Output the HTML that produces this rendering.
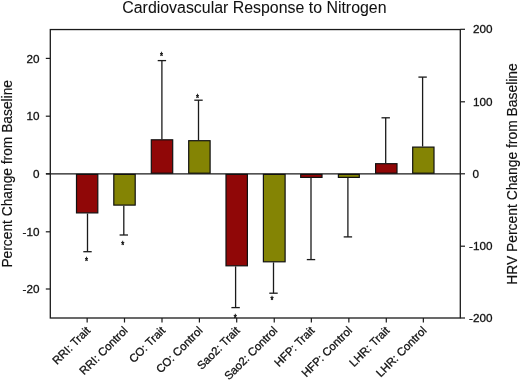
<!DOCTYPE html><html><head><meta charset="utf-8"><style>html,body{margin:0;padding:0;background:#fff;}svg{display:block;will-change:transform;}text{font-family:"Liberation Sans",sans-serif;fill:#111;stroke:#111;stroke-width:0.3px;}</style></head><body>
<svg width="520" height="381" viewBox="0 0 520 381">
<rect x="0" y="0" width="520" height="381" fill="#fff"/>
<text style="stroke-width:0.05px" x="122.3" y="13.2" font-size="16" textLength="264.2" lengthAdjust="spacingAndGlyphs">Cardiovascular Response to Nitrogen</text>
<text style="stroke-width:0.15px" transform="translate(11.5,267.6) rotate(-90)" x="0" y="0" font-size="14" textLength="187.6" lengthAdjust="spacingAndGlyphs">Percent Change from Baseline</text>
<text style="stroke-width:0.15px" transform="translate(516.9,284.8) rotate(-90)" x="0" y="0" font-size="14" textLength="221.5" lengthAdjust="spacingAndGlyphs">HRV Percent Change from Baseline</text>
<line x1="46" y1="173.8" x2="460" y2="173.8" stroke="#1a1a1a" stroke-width="1.2"/>
<line x1="87.5" y1="213.5" x2="87.5" y2="251.7" stroke="#1a1a1a" stroke-width="1.3"/>
<line x1="83.3" y1="251.7" x2="91.7" y2="251.7" stroke="#1a1a1a" stroke-width="1.3"/>
<rect x="76.5" y="174.4" width="21.3" height="38.5" fill="#900707" stroke="#111" stroke-width="1.2"/>
<text transform="translate(86.5,265.1) scale(0.7,1)" x="0" y="0" font-size="11" text-anchor="middle" style="stroke-width:0.5px">*</text>
<line x1="123.8" y1="205.7" x2="123.8" y2="235" stroke="#1a1a1a" stroke-width="1.3"/>
<line x1="119.6" y1="235" x2="128" y2="235" stroke="#1a1a1a" stroke-width="1.3"/>
<rect x="113.8" y="174.4" width="21.4" height="30.7" fill="#848404" stroke="#111" stroke-width="1.2"/>
<text transform="translate(122.8,248.6) scale(0.7,1)" x="0" y="0" font-size="11" text-anchor="middle" style="stroke-width:0.5px">*</text>
<line x1="161.9" y1="139.2" x2="161.9" y2="60.6" stroke="#1a1a1a" stroke-width="1.3"/>
<line x1="157.7" y1="60.6" x2="166.1" y2="60.6" stroke="#1a1a1a" stroke-width="1.3"/>
<rect x="151.3" y="139.8" width="21.4" height="33.4" fill="#900707" stroke="#111" stroke-width="1.2"/>
<text transform="translate(161.4,59.6) scale(0.7,1)" x="0" y="0" font-size="11" text-anchor="middle" style="stroke-width:0.5px">*</text>
<line x1="198.5" y1="140.1" x2="198.5" y2="100.2" stroke="#1a1a1a" stroke-width="1.3"/>
<line x1="194.3" y1="100.2" x2="202.7" y2="100.2" stroke="#1a1a1a" stroke-width="1.3"/>
<rect x="188.7" y="140.7" width="21.4" height="32.5" fill="#848404" stroke="#111" stroke-width="1.2"/>
<text transform="translate(197.5,102.4) scale(0.7,1)" x="0" y="0" font-size="11" text-anchor="middle" style="stroke-width:0.5px">*</text>
<line x1="235.6" y1="266.4" x2="235.6" y2="307.6" stroke="#1a1a1a" stroke-width="1.3"/>
<line x1="231.4" y1="307.6" x2="239.8" y2="307.6" stroke="#1a1a1a" stroke-width="1.3"/>
<rect x="226" y="174.4" width="21.4" height="91.4" fill="#900707" stroke="#111" stroke-width="1.2"/>
<text transform="translate(235.2,321.8) scale(0.7,1)" x="0" y="0" font-size="11" text-anchor="middle" style="stroke-width:0.5px">*</text>
<line x1="273.5" y1="262.4" x2="273.5" y2="293.2" stroke="#1a1a1a" stroke-width="1.3"/>
<line x1="269.3" y1="293.2" x2="277.7" y2="293.2" stroke="#1a1a1a" stroke-width="1.3"/>
<rect x="263.4" y="174.4" width="21.7" height="87.4" fill="#848404" stroke="#111" stroke-width="1.2"/>
<text transform="translate(272.1,304.1) scale(0.7,1)" x="0" y="0" font-size="11" text-anchor="middle" style="stroke-width:0.5px">*</text>
<line x1="311" y1="178" x2="311" y2="259.6" stroke="#1a1a1a" stroke-width="1.3"/>
<line x1="306.8" y1="259.6" x2="315.2" y2="259.6" stroke="#1a1a1a" stroke-width="1.3"/>
<rect x="300.7" y="174.4" width="21.3" height="3" fill="#900707" stroke="#111" stroke-width="1.2"/>
<line x1="347.9" y1="178" x2="347.9" y2="236.9" stroke="#1a1a1a" stroke-width="1.3"/>
<line x1="343.7" y1="236.9" x2="352.1" y2="236.9" stroke="#1a1a1a" stroke-width="1.3"/>
<rect x="338.4" y="174.4" width="20.9" height="3" fill="#848404" stroke="#111" stroke-width="1.2"/>
<line x1="385.7" y1="163.1" x2="385.7" y2="117.8" stroke="#1a1a1a" stroke-width="1.3"/>
<line x1="381.5" y1="117.8" x2="389.9" y2="117.8" stroke="#1a1a1a" stroke-width="1.3"/>
<rect x="375.6" y="163.7" width="21.4" height="9.5" fill="#900707" stroke="#111" stroke-width="1.2"/>
<line x1="422.6" y1="146.5" x2="422.6" y2="77.1" stroke="#1a1a1a" stroke-width="1.3"/>
<line x1="418.4" y1="77.1" x2="426.8" y2="77.1" stroke="#1a1a1a" stroke-width="1.3"/>
<rect x="412.7" y="147.1" width="21.3" height="26.1" fill="#848404" stroke="#111" stroke-width="1.2"/>
<rect x="50.3" y="29.55" width="410" height="288.45" fill="none" stroke="#1a1a1a" stroke-width="1.3"/>
<line x1="45.8" y1="58.4" x2="50" y2="58.4" stroke="#1a1a1a" stroke-width="1.2"/>
<text x="39.4" y="62.6" font-size="11.7" text-anchor="end">20</text>
<line x1="45.8" y1="116.2" x2="50" y2="116.2" stroke="#1a1a1a" stroke-width="1.2"/>
<text x="39.4" y="120.4" font-size="11.7" text-anchor="end">10</text>
<line x1="45.8" y1="173.8" x2="50" y2="173.8" stroke="#1a1a1a" stroke-width="1.2"/>
<text x="39.4" y="178.0" font-size="11.7" text-anchor="end">0</text>
<line x1="45.8" y1="231.8" x2="50" y2="231.8" stroke="#1a1a1a" stroke-width="1.2"/>
<text x="39.4" y="236.0" font-size="11.7" text-anchor="end">-10</text>
<line x1="45.8" y1="289" x2="50" y2="289" stroke="#1a1a1a" stroke-width="1.2"/>
<text x="39.4" y="293.2" font-size="11.7" text-anchor="end">-20</text>
<line x1="460.5" y1="29.3" x2="465" y2="29.3" stroke="#1a1a1a" stroke-width="1.2"/>
<text x="492.5" y="33.4" font-size="11.7" text-anchor="end">200</text>
<line x1="460.5" y1="101.8" x2="465" y2="101.8" stroke="#1a1a1a" stroke-width="1.2"/>
<text x="492.5" y="105.89999999999999" font-size="11.7" text-anchor="end">100</text>
<line x1="460.5" y1="173.8" x2="465" y2="173.8" stroke="#1a1a1a" stroke-width="1.2"/>
<text x="472.6" y="177.9" font-size="11.7" text-anchor="start">0</text>
<line x1="460.5" y1="246.2" x2="465" y2="246.2" stroke="#1a1a1a" stroke-width="1.2"/>
<text x="492.5" y="250.29999999999998" font-size="11.7" text-anchor="end">-100</text>
<line x1="460.5" y1="318" x2="465" y2="318" stroke="#1a1a1a" stroke-width="1.2"/>
<text x="492.5" y="322.1" font-size="11.7" text-anchor="end">-200</text>
<line x1="87.15" y1="318" x2="87.15" y2="322.5" stroke="#1a1a1a" stroke-width="1.2"/>
<text transform="translate(91.05,331.3) rotate(-45)" x="0" y="0" font-size="11.4" text-anchor="end">RRI: Trait</text>
<line x1="124.5" y1="318" x2="124.5" y2="322.5" stroke="#1a1a1a" stroke-width="1.2"/>
<text transform="translate(128.40,331.3) rotate(-45)" x="0" y="0" font-size="11.4" text-anchor="end">RRI: Control</text>
<line x1="162.0" y1="318" x2="162.0" y2="322.5" stroke="#1a1a1a" stroke-width="1.2"/>
<text transform="translate(165.90,331.3) rotate(-45)" x="0" y="0" font-size="11.4" text-anchor="end">CO: Trait</text>
<line x1="199.4" y1="318" x2="199.4" y2="322.5" stroke="#1a1a1a" stroke-width="1.2"/>
<text transform="translate(203.30,331.3) rotate(-45)" x="0" y="0" font-size="11.4" text-anchor="end">CO: Control</text>
<line x1="236.7" y1="318" x2="236.7" y2="322.5" stroke="#1a1a1a" stroke-width="1.2"/>
<text transform="translate(240.60,331.3) rotate(-45)" x="0" y="0" font-size="11.4" text-anchor="end">Sao2: Trait</text>
<line x1="274.25" y1="318" x2="274.25" y2="322.5" stroke="#1a1a1a" stroke-width="1.2"/>
<text transform="translate(278.15,331.3) rotate(-45)" x="0" y="0" font-size="11.4" text-anchor="end">Sao2: Control</text>
<line x1="311.35" y1="318" x2="311.35" y2="322.5" stroke="#1a1a1a" stroke-width="1.2"/>
<text transform="translate(315.25,331.3) rotate(-45)" x="0" y="0" font-size="11.4" text-anchor="end">HFP: Trait</text>
<line x1="348.85" y1="318" x2="348.85" y2="322.5" stroke="#1a1a1a" stroke-width="1.2"/>
<text transform="translate(352.75,331.3) rotate(-45)" x="0" y="0" font-size="11.4" text-anchor="end">HFP: Control</text>
<line x1="386.3" y1="318" x2="386.3" y2="322.5" stroke="#1a1a1a" stroke-width="1.2"/>
<text transform="translate(390.20,331.3) rotate(-45)" x="0" y="0" font-size="11.4" text-anchor="end">LHR: Trait</text>
<line x1="423.35" y1="318" x2="423.35" y2="322.5" stroke="#1a1a1a" stroke-width="1.2"/>
<text transform="translate(427.25,331.3) rotate(-45)" x="0" y="0" font-size="11.4" text-anchor="end">LHR: Control</text>
</svg></body></html>
